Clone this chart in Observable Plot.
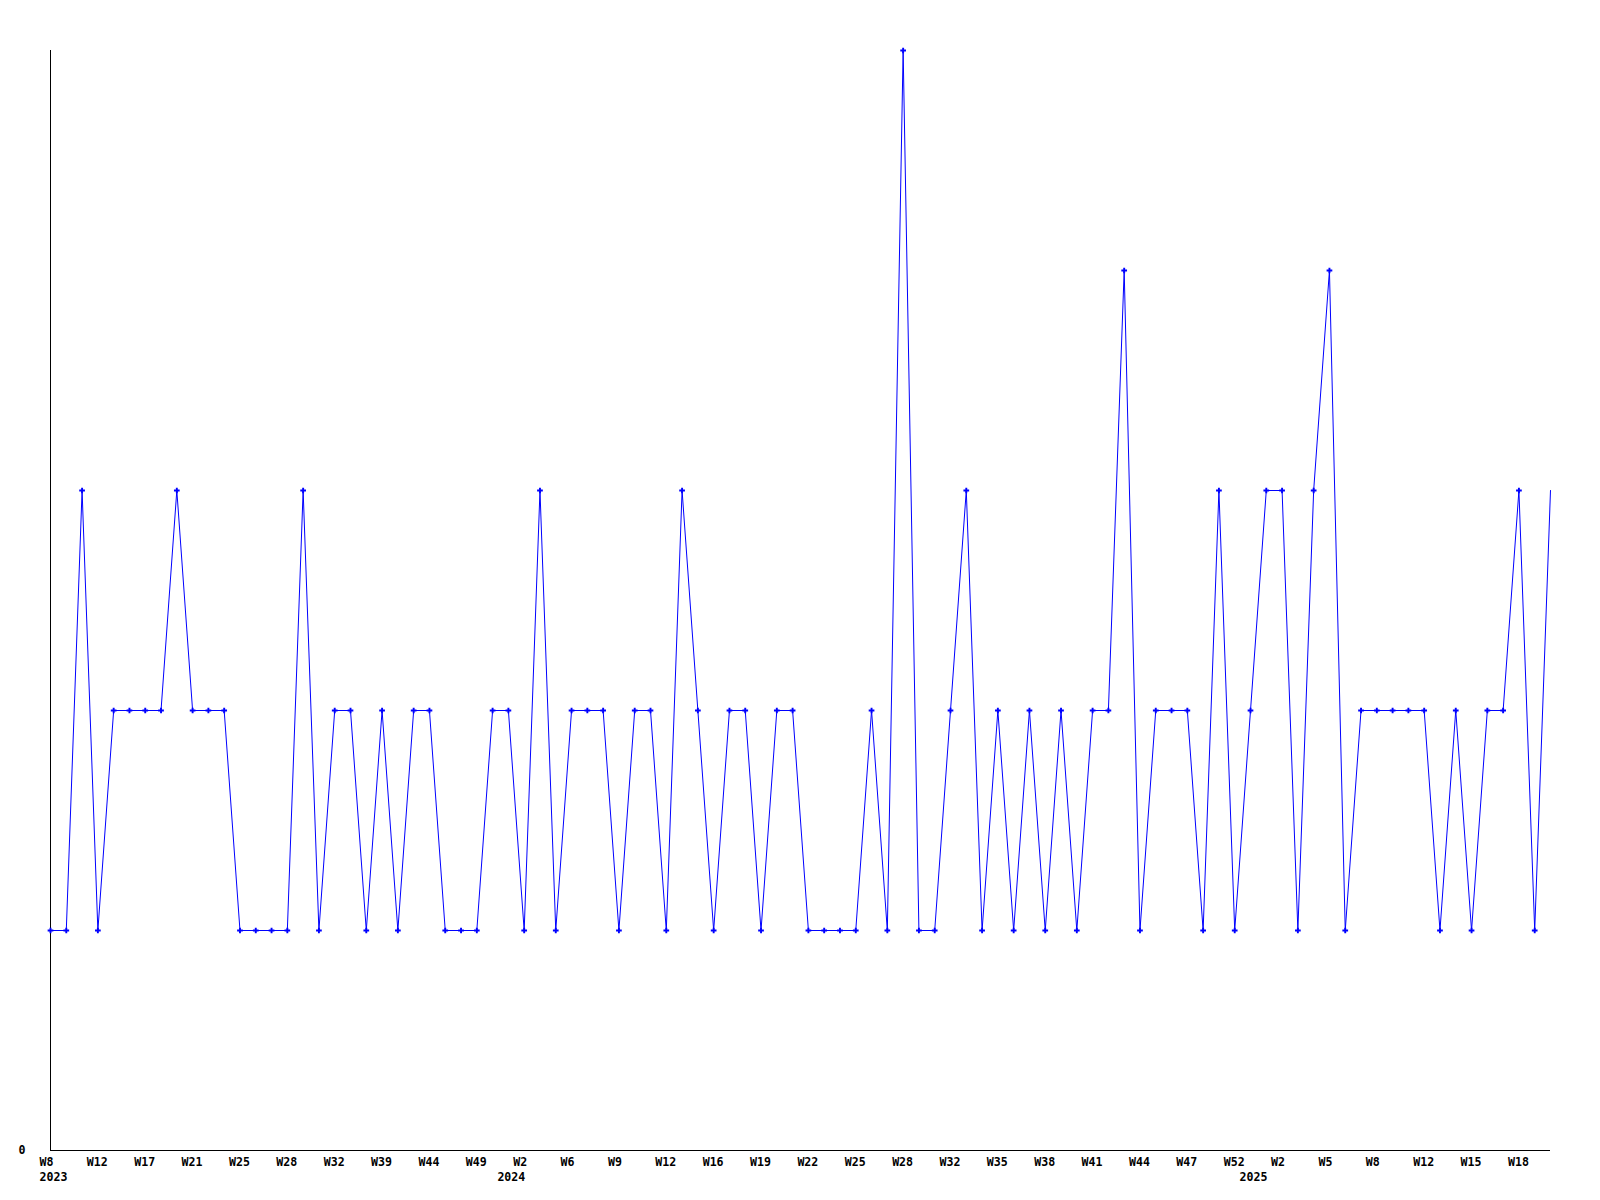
<!DOCTYPE html>
<html>
<head>
<meta charset="utf-8">
<script src="https://cdn.jsdelivr.net/npm/d3@7"></script>
<script src="https://cdn.jsdelivr.net/npm/@observablehq/plot@0.6"></script>
<style>
  html, body { margin: 0; padding: 0; background: #ffffff; }
  #chart svg { display: block; }
</style>
</head>
<body>
<div id="chart"></div>
<script>
// Weekly values, one per plotted week (in order)
const weekValues = [
  1,1,3,1,2,2,2,2,3,2,
  2,2,1,1,1,1,3,1,2,2,
  1,2,1,2,2,1,1,1,2,2,
  1,3,1,2,2,2,1,2,2,1,
  3,2,1,2,2,1,2,2,1,1,
  1,1,2,1,5,1,1,2,3,1,
  2,1,2,1,2,1,2,2,4,1,
  2,2,2,1,3,1,2,3,3,1,
  3,4,1,2,2,2,2,2,1,2,
  1,2,2,3,1,3
];

// Week tick labels (every third plotted week)
const weekTickLabels = ["W8","W12","W17","W21","W25","W28","W32","W39","W44","W49","W2",
  "W6","W9","W12","W16","W19","W22","W25","W28","W32","W35","W38",
  "W41","W44","W47","W52","W2","W5","W8","W12","W15","W18"];
const weekTickIndex = weekTickLabels.map((_, k) => k * 3);

// Year labels and the plotted week where each year starts
const yearLabels = ["2023", "2024", "2025"];
const yearIndex = [0, 29, 76];

const data = weekValues.map((v, i) => ({i, v}));
const ticks = weekTickIndex.map((i, k) => ({i, label: weekTickLabels[k]}));
const years = yearIndex.map((i, k) => ({i, label: yearLabels[k]}));

const font = {fontFamily: "'DejaVu Sans Mono', monospace", fontWeight: "bold", fontSize: 11.6};

const chart = Plot.plot({
  width: 1600,
  height: 1200,
  marginLeft: 50,
  marginRight: 50,
  marginTop: 50,
  marginBottom: 50,
  style: {background: "#ffffff", fontFamily: font.fontFamily},
  x: {domain: [0, weekValues.length - 1], axis: null},
  y: {domain: [0, 5], axis: null},
  marks: [
    Plot.ruleX([0], {stroke: "#000000", strokeWidth: 1}),
    Plot.ruleY([0], {stroke: "#000000", strokeWidth: 1}),
    Plot.line(data, {x: "i", y: "v", stroke: "#0000ff", strokeWidth: 1, curve: "linear"}),
    Plot.dot(data.slice(0, -1), {x: "i", y: "v", symbol: "cross", r: 2.4, fill: "#0000ff", stroke: "none"}),
    Plot.text([0], {y: d => d, frameAnchor: "left", text: d => String(d), textAnchor: "end", dx: -25, fill: "#000000", ...font}),
    Plot.text(ticks, {x: "i", frameAnchor: "bottom", text: "label", textAnchor: "start", dx: -11, dy: 12, lineAnchor: "middle", fill: "#000000", ...font}),
    Plot.text(years, {x: "i", frameAnchor: "bottom", text: "label", textAnchor: "start", dx: -11, dy: 27, lineAnchor: "middle", fill: "#000000", ...font})
  ]
});
document.getElementById("chart").appendChild(chart);
</script>
</body>
</html>
